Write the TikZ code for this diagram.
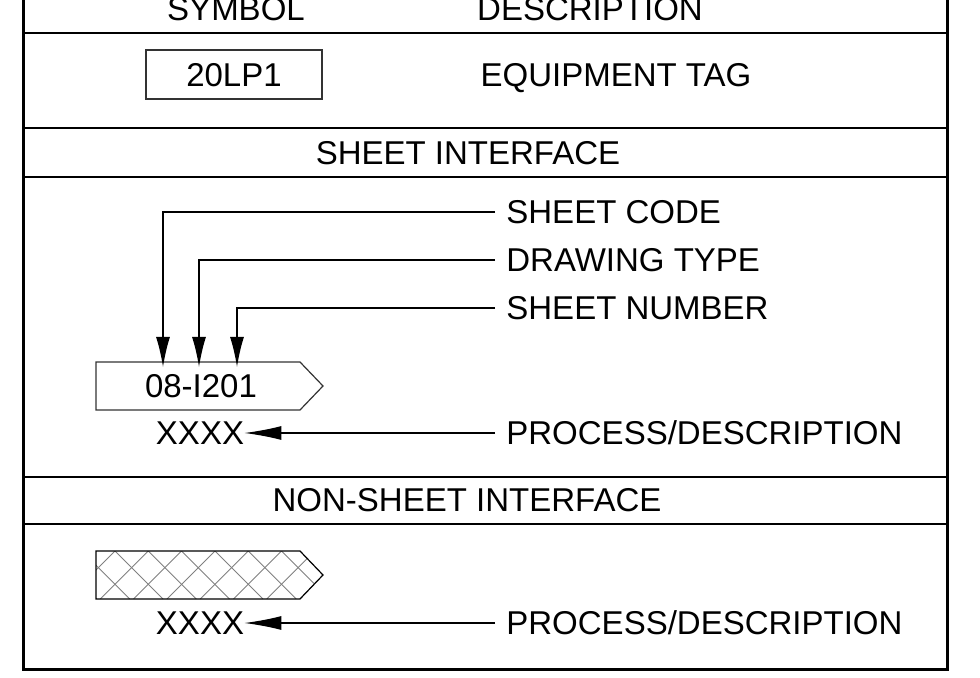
\documentclass[tikz,border=0pt]{standalone}
\usepackage{fontspec}
\setmainfont{Liberation Sans}
\usetikzlibrary{arrows.meta,positioning}

\begin{document}
\begin{tikzpicture}[x=0.5pt, y=-0.5pt,
  frame/.style={line width=1.5pt, line join=miter},
  rule/.style={line width=1pt},
  lbl/.style={font=\fontsize{16.5}{18}\selectfont, inner sep=0pt, text depth=0pt},
  legend/.style={lbl, anchor=west, inner xsep=5.5pt},
  leader/.style={line width=0.65pt},
  downarrow/.style={leader, -{Latex[length=15pt, width=7pt]}},
  backarrow/.style={leader, -{Latex[length=18.5pt, width=7pt]}},
  tagbox/.style={draw=black!80, line width=0.6pt},
  hatch/.style={draw=gray, line width=0.45pt}
]
  \useasboundingbox (0,0) rectangle (980,678);

  % === Frame and rules ===
  \draw[frame] (23,-10) -- (23,669) -- (947,669) -- (947,-10);
  \foreach \ry in {33,128,177,477,524}
    \draw[rule] (23,\ry) -- (947,\ry);

  % === Header ===
  \node[lbl] (symhead) at (236,9) {SYMBOL};
  \node[lbl] (deschead) at (590,9) {DESCRIPTION};

  % === Equipment tag ===
  \node[lbl, tagbox, minimum width=88pt, minimum height=24.5pt]
    (eqtag) at (234,74.5) {20LP1};
  \node[lbl] (eqdesc) at (616,75) {EQUIPMENT TAG};

  % === Sheet interface ===
  \node[lbl] (sheethead) at (468,153) {SHEET INTERFACE};

  \draw[tagbox] (96,362) -- (300,362) -- (323,386) -- (300,410)
    -- (96,410) -- cycle;
  \node[lbl] (sheetno) at (201,386) {08-I201};
  \coordinate (codept) at (163,367);
  \coordinate (typept) at (199,367);
  \coordinate (numpt) at (237,367);

  \node[legend] (sheetcode) at (495,212) {SHEET CODE};
  \node[legend] (drawtype) at (495,260) {DRAWING TYPE};
  \node[legend] (sheetnum) at (495,308) {SHEET NUMBER};
  \draw[downarrow] (sheetcode.west) -| (codept);
  \draw[downarrow] (drawtype.west) -| (typept);
  \draw[downarrow] (sheetnum.west) -| (numpt);

  \node[lbl] (procA) at (200,433) {XXXX};
  \node[legend] (procdescA) at (495,433) {PROCESS/DESCRIPTION};
  \draw[backarrow] (procdescA.west) -- (procA.east);

  % === Non-sheet interface ===
  \node[lbl] (nonsheethead) at (467,500) {NON-SHEET INTERFACE};

  \begin{scope}
    \clip (96,551) -- (300,551) -- (323,575) -- (300,599) -- (96,599) -- cycle;
    \foreach \k in {-4,...,7} {
      \draw[hatch] (148.3+33.3*\k,551) -- ++(48,48);
      \draw[hatch] (148.3+33.3*\k,551) -- ++(-48,48);
    }
  \end{scope}
  \draw[tagbox, draw=black] (96,551) -- (300,551) -- (323,575) -- (300,599)
    -- (96,599) -- cycle;

  \node[lbl] (procB) at (200,623) {XXXX};
  \node[legend] (procdescB) at (495,623) {PROCESS/DESCRIPTION};
  \draw[backarrow] (procdescB.west) -- (procB.east);
\end{tikzpicture}
\end{document}
